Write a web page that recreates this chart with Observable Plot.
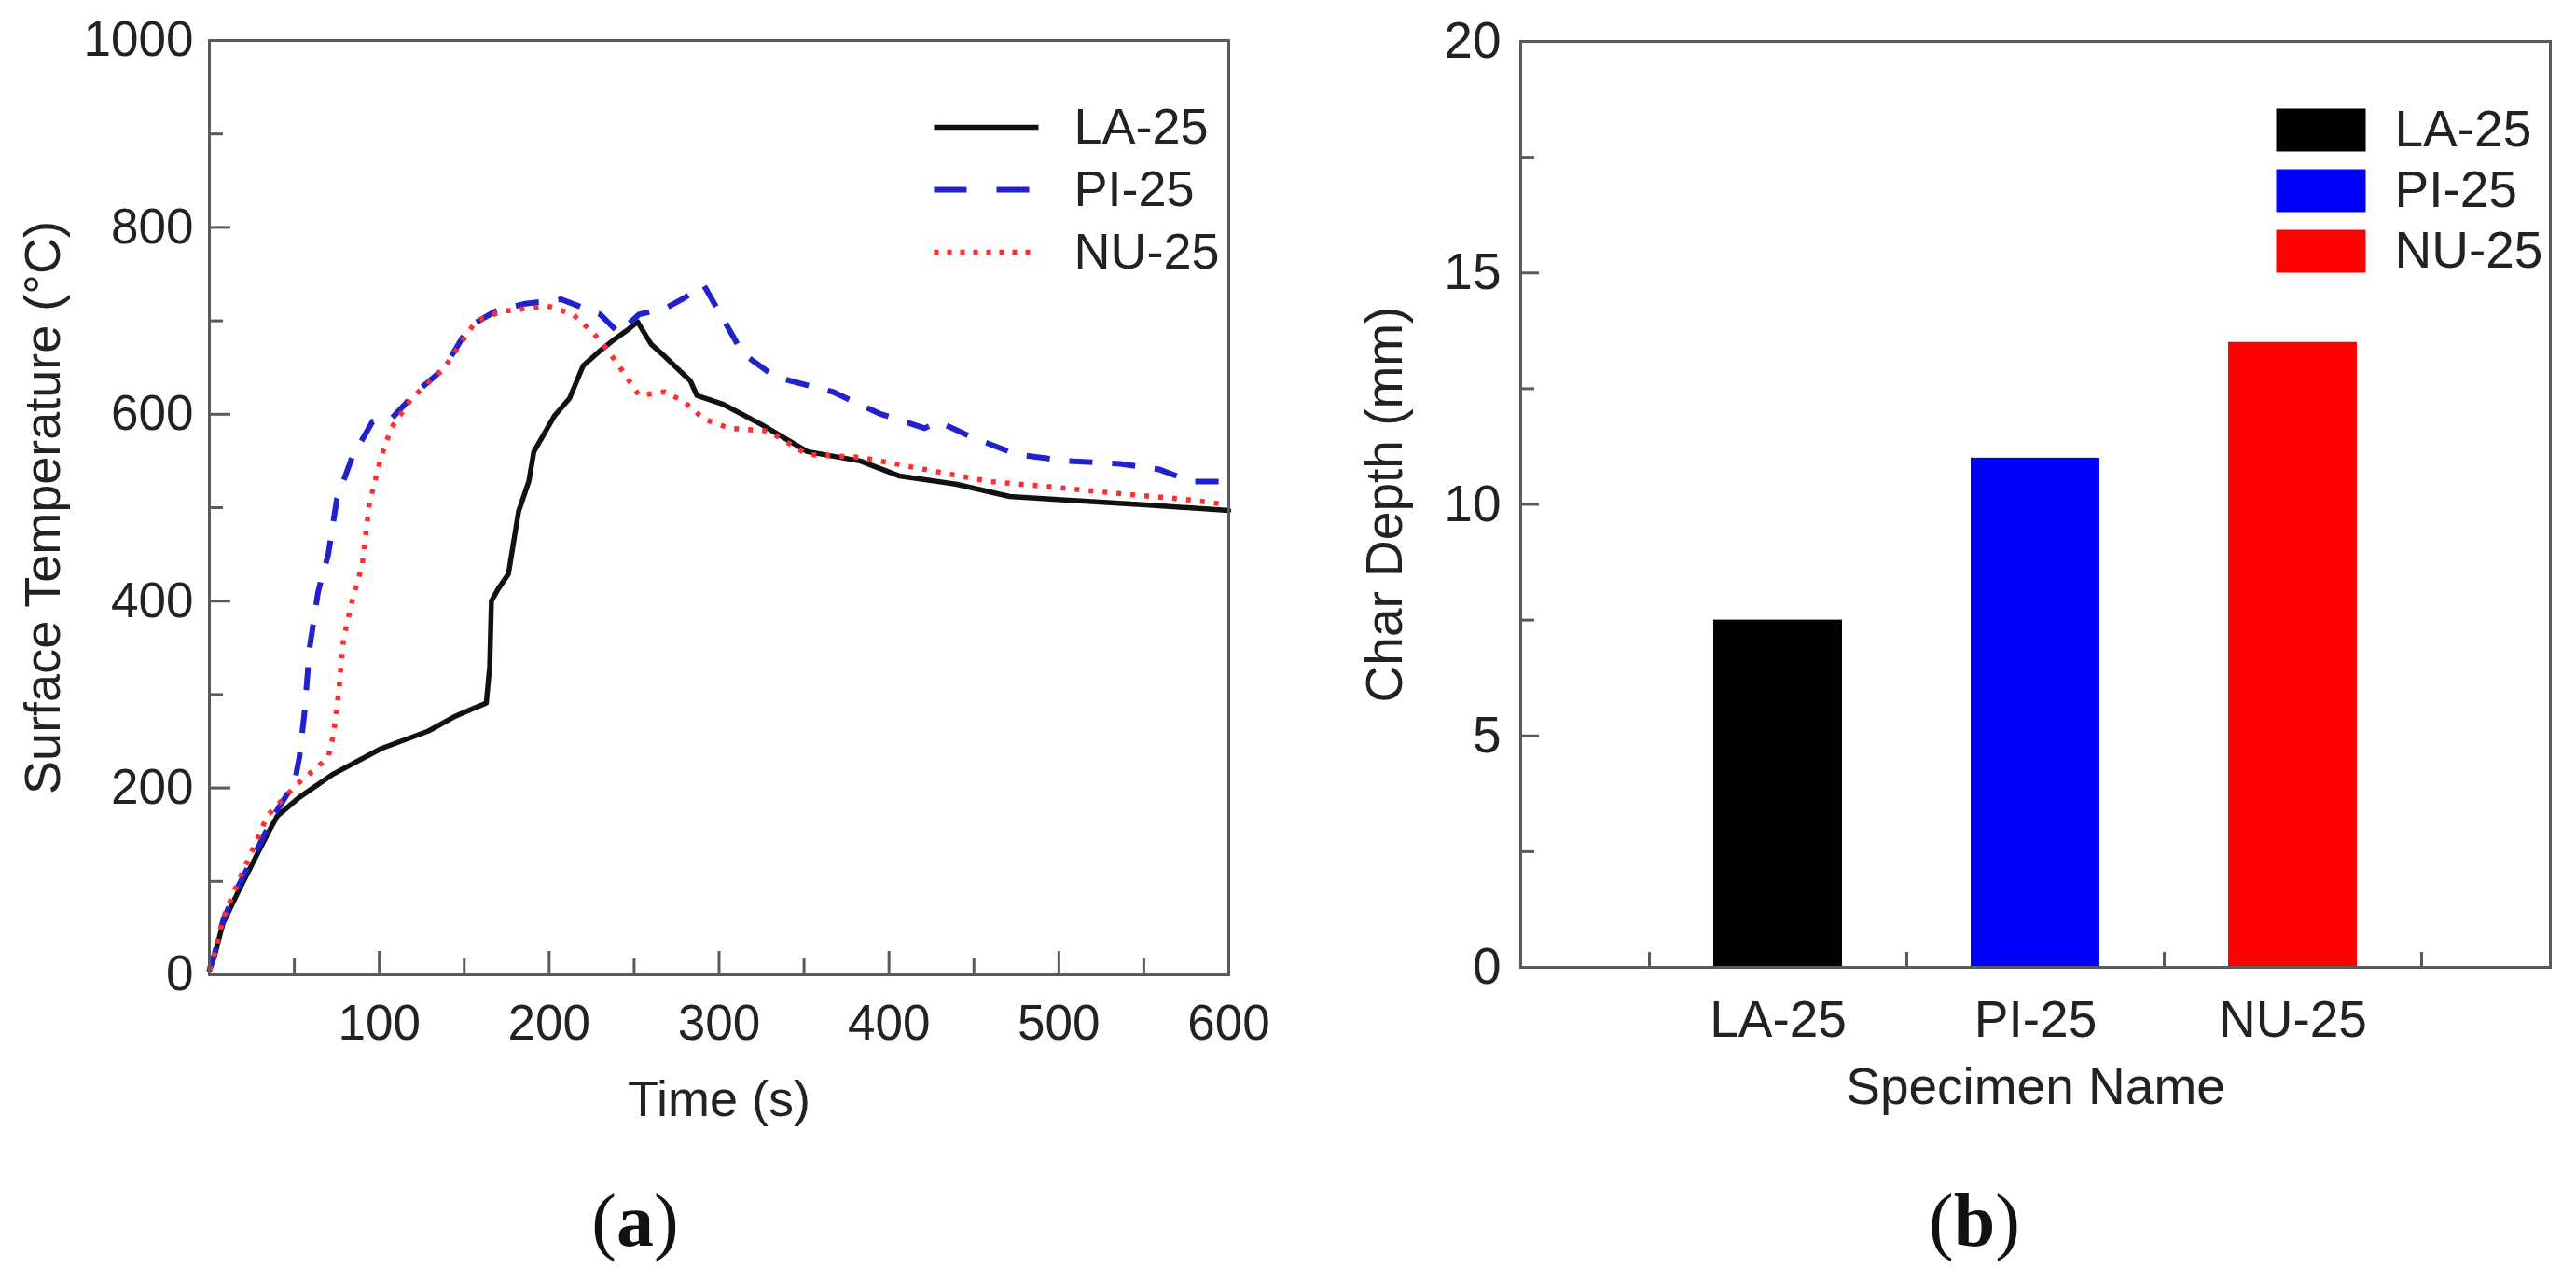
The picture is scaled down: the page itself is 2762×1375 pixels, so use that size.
<!DOCTYPE html>
<html>
<head>
<meta charset="utf-8">
<script src="https://cdn.jsdelivr.net/npm/d3@7"></script>
<script src="https://cdn.jsdelivr.net/npm/@observablehq/plot@0.6"></script>
<style>
  body { margin: 0; background: #fff; }
  #page { position: relative; width: 2762px; height: 1375px; overflow: hidden; background: #fff; }
  #chart_a, #chart_b { position: absolute; top: 0; }
  #chart_a { left: 0; }
  #chart_b { left: 1400px; }
  .cap { position: absolute; top: 1269px; font-family: "Liberation Serif", "Times New Roman", serif;
         font-size: 80px; line-height: 80px; transform: translateX(-50%); color: #111; white-space: nowrap; }
</style>
</head>
<body>
<div id="page">
  <div id="chart_a"></div>
  <div id="chart_b"></div>
  <div class="cap" style="left:681px">(<b>a</b>)</div>
  <div class="cap" style="left:2117px">(<b>b</b>)</div>
</div>
<script>
// (a) surface temperature vs time
const series = ["LA-25", "PI-25", "NU-25"];
const lineColors = ["#111111", "#2222cc", "#ff2e2e"];

const laTime = [0, 3, 8, 17, 27, 34, 40, 53, 73, 101, 129, 145, 163, 165, 166, 170, 176, 182, 188, 191, 197, 203, 212, 220, 230, 239, 246, 252, 260, 268, 276, 283, 287, 302, 325, 352, 383, 406, 440, 471, 497, 551, 600];
const laTemp = [5, 20, 55, 89, 125, 150, 170, 190, 215, 242, 261, 277, 291, 330, 400, 413, 429, 496, 528, 560, 579, 598, 617, 652, 668, 681, 690, 699, 675, 662, 648, 636, 620, 611, 589, 560, 550, 534, 525, 512, 509, 503, 497];

const piTime = [0, 3, 8, 17, 27, 38, 50, 53, 56, 59, 64, 70, 75, 84, 96, 107, 122, 138, 153, 168, 185, 207, 230, 241, 253, 268, 280, 291, 299, 314, 333, 367, 394, 421, 429, 448, 475, 505, 536, 559, 578, 600];
const piTemp = [5, 22, 58, 95, 130, 171, 205, 233, 281, 350, 410, 450, 509, 554, 592, 595, 624, 649, 694, 710, 718, 723, 707, 687, 707, 713, 725, 738, 713, 665, 640, 624, 601, 585, 592, 576, 557, 550, 547, 541, 528, 528];

const nuTime = [0, 3, 8, 17, 27, 34, 51, 62, 70, 73, 76, 79, 84, 90, 94, 101, 107, 119, 138, 157, 172, 199, 214, 226, 233, 241, 253, 268, 279, 291, 306, 329, 352, 383, 421, 459, 497, 536, 574, 600];
const nuTemp = [5, 22, 60, 100, 140, 170, 203, 220, 233, 257, 301, 360, 400, 439, 503, 554, 585, 617, 649, 700, 710, 716, 707, 687, 672, 652, 620, 624, 614, 595, 585, 582, 557, 554, 541, 528, 522, 515, 509, 503];

const tempTicks = [0, 200, 400, 600, 800, 1000];
const tempMinor = [100, 300, 500, 700, 900];
const timeTicks = [100, 200, 300, 400, 500, 600];
const timeMinor = [50, 150, 250, 350, 450, 550];

// (b) char depth
const specimens = ["LA-25", "PI-25", "NU-25"];
const charDepth = [7.5, 11.0, 13.5];
const barColors = ["#000000", "#0000ff", "#ff0000"];
const depthTicks = [0, 5, 10, 15, 20];
const depthMinor = [2.5, 7.5, 12.5, 17.5];
const slotTicks = [0.5, 1.5, 2.5, 3.5];

const rows = (t, v) => t.map((x, i) => ({t: x, temp: v[i]}));
const curves = [rows(laTime, laTemp), rows(piTime, piTemp), rows(nuTime, nuTemp)];
const dashes = [null, "25,21", "5,10"];
const widths = [5.5, 6, 5.5];
const legendDashes = [null, "35,32", "5,9"];

// straight segment used as legend sample
const segment = {draw(context, l) { context.moveTo(0, 0); context.lineTo(0, -l); }};

const font = "'Liberation Sans', Arial, Helvetica, sans-serif";
const ink = "#222";
const axisInk = "#5a5a5a";
const plain = d3.format("d");

const chartA = Plot.plot({
  width: 1400, height: 1240,
  marginLeft: 224, marginRight: 83, marginTop: 43, marginBottom: 195,
  style: {fontFamily: font, background: "transparent", color: ink, overflow: "visible"},
  x: {domain: [0, 600]},
  y: {domain: [0, 1000]},
  marks: [
    ...curves.map((data, i) => Plot.line(data, {
      x: "t", y: "temp", stroke: lineColors[i], strokeWidth: widths[i],
      strokeDasharray: dashes[i], strokeLinecap: i === 0 ? "round" : "butt"
    })),
    Plot.frame({stroke: axisInk, strokeWidth: 3}),
    Plot.axisY({ticks: tempTicks, tickFormat: plain, tickSize: 0, tickPadding: 17, fontSize: 53, fill: ink, label: null}),
    Plot.axisY({ticks: tempTicks, tickSize: -23, stroke: axisInk, strokeWidth: 3, fill: "none", label: null}),
    Plot.axisY({ticks: tempMinor, tickSize: -15, stroke: axisInk, strokeWidth: 3, fill: "none", label: null}),
    Plot.axisX({ticks: timeTicks, tickFormat: plain, tickSize: 0, tickPadding: 32, fontSize: 53, fill: ink, label: null}),
    Plot.axisX({ticks: timeTicks, tickSize: -25, stroke: axisInk, strokeWidth: 3, fill: "none", label: null}),
    Plot.axisX({ticks: timeMinor, tickSize: -17, stroke: axisInk, strokeWidth: 3, fill: "none", label: null}),
    Plot.text(["Time (s)"], {frameAnchor: "bottom", dy: 134, lineAnchor: "middle", textAnchor: "middle", fontSize: 54, fill: ink}),
    Plot.text(["Surface Temperature (°C)"], {frameAnchor: "left", dx: -178, rotate: -90, lineAnchor: "middle", textAnchor: "middle", fontSize: 54, fill: ink}),
    ...series.map((name, i) => Plot.vector([name], {
      frameAnchor: "top-right", dx: -316, dy: 93 + 67 * i, rotate: 90, length: 112, anchor: "start",
      shape: segment, stroke: lineColors[i], strokeWidth: widths[i],
      strokeDasharray: legendDashes[i], strokeLinecap: "butt"
    })),
    ...series.map((name, i) => Plot.text([name], {
      frameAnchor: "top-right", dx: -166, dy: 93 + 67 * i, textAnchor: "start", lineAnchor: "middle", fontSize: 54, fill: ink
    }))
  ]
});
document.getElementById("chart_a").append(chartA);

const bars = specimens.map((name, i) => ({name, depth: charDepth[i], slot: i + 1}));

const chartB = Plot.plot({
  width: 1362, height: 1240,
  marginLeft: 230, marginRight: 28, marginTop: 44, marginBottom: 203,
  style: {fontFamily: font, background: "transparent", color: ink, overflow: "visible"},
  x: {domain: [0, 4]},
  y: {domain: [0, 20]},
  color: {domain: specimens, range: barColors},
  marks: [
    Plot.rectY(bars, {x1: d => d.slot - 0.25, x2: d => d.slot + 0.25, y: "depth", fill: "name"}),
    Plot.frame({stroke: axisInk, strokeWidth: 3}),
    Plot.axisY({ticks: depthTicks, tickFormat: plain, tickSize: 0, tickPadding: 21, fontSize: 55, fill: ink, label: null}),
    Plot.axisY({ticks: depthTicks, tickSize: -20, stroke: axisInk, strokeWidth: 3, fill: "none", label: null}),
    Plot.axisY({ticks: depthMinor, tickSize: -15, stroke: axisInk, strokeWidth: 3, fill: "none", label: null}),
    Plot.axisX({ticks: [1, 2, 3], tickFormat: k => specimens[k - 1], tickSize: 0, tickPadding: 35, fontSize: 55, fill: ink, label: null}),
    Plot.axisX({ticks: slotTicks, tickSize: -16, stroke: axisInk, strokeWidth: 3, fill: "none", label: null}),
    Plot.text(["Specimen Name"], {frameAnchor: "bottom", dy: 129, lineAnchor: "middle", textAnchor: "middle", fontSize: 55, fill: ink}),
    Plot.text(["Char Depth (mm)"], {frameAnchor: "left", dx: -145, rotate: -90, lineAnchor: "middle", textAnchor: "middle", fontSize: 55, fill: ink}),
    ...specimens.map((name, i) => Plot.vector([name], {
      frameAnchor: "top-right", dx: -294, dy: 95 + 65 * i, rotate: 90, length: 96, anchor: "start",
      shape: segment, stroke: barColors[i], strokeWidth: 46, strokeLinecap: "butt"
    })),
    ...specimens.map((name, i) => Plot.text([name], {
      frameAnchor: "top-right", dx: -167, dy: 95 + 65 * i, textAnchor: "start", lineAnchor: "middle", fontSize: 55, fill: ink
    }))
  ]
});
document.getElementById("chart_b").append(chartB);
</script>
</body>
</html>
